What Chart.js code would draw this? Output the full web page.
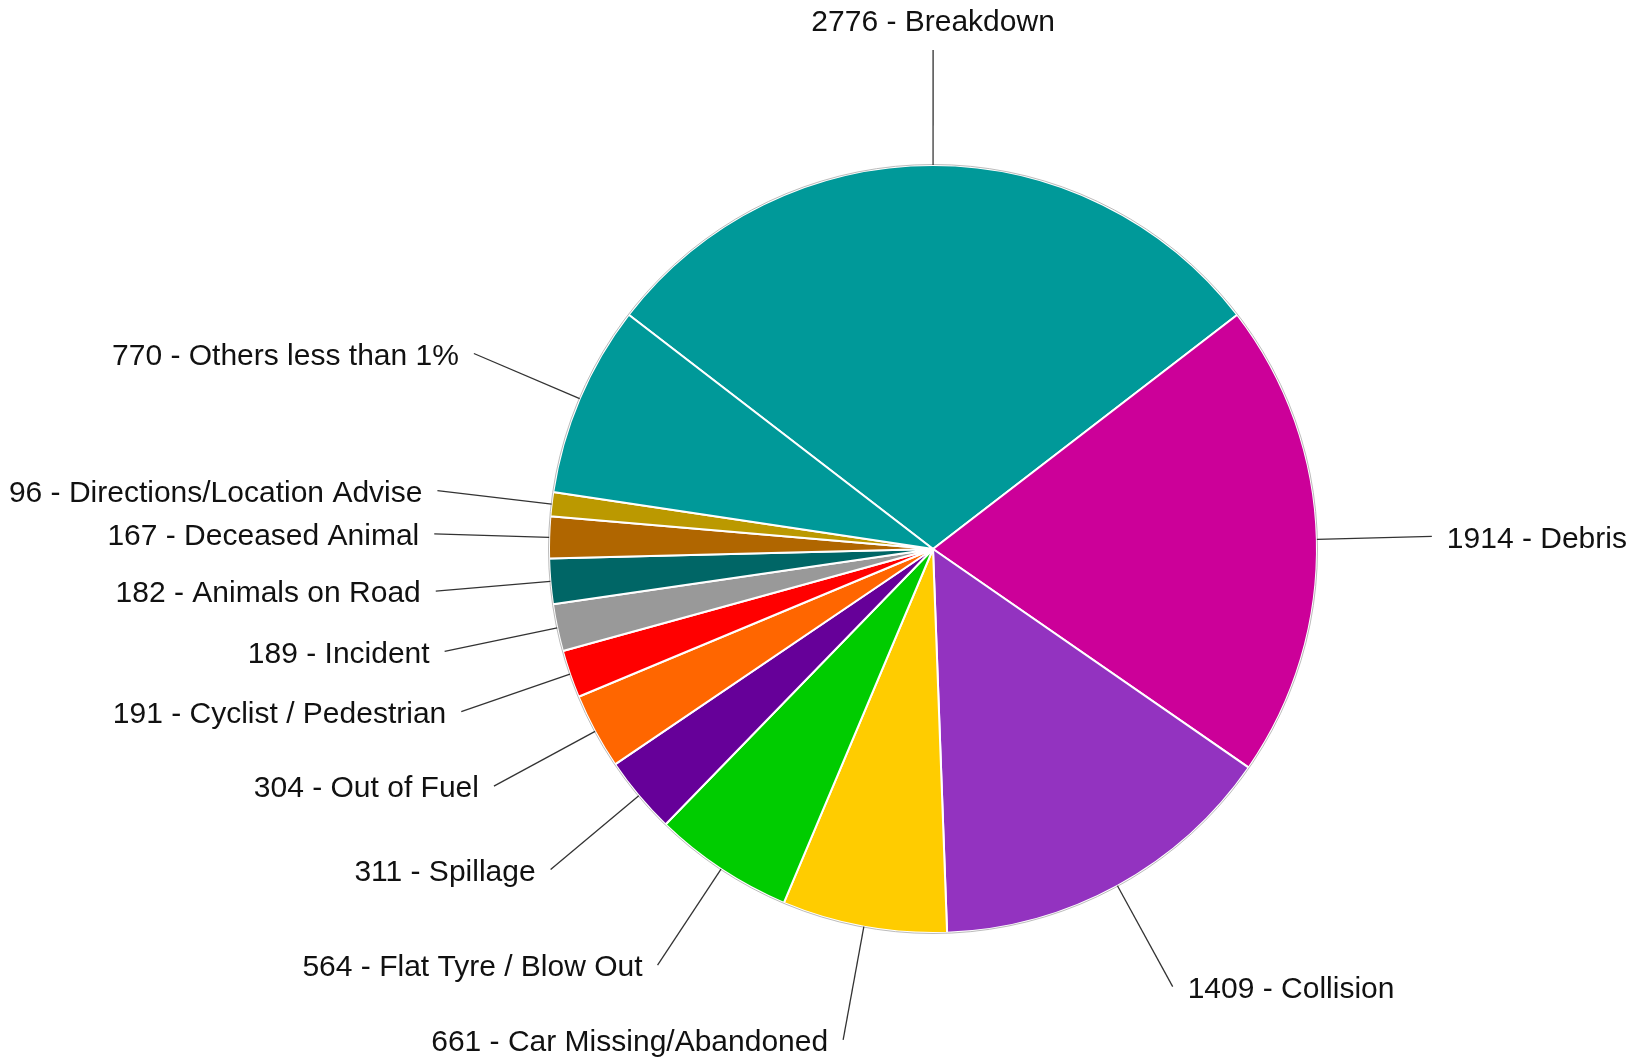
<!DOCTYPE html>
<html>
<head>
<meta charset="utf-8">
<script src="https://cdn.jsdelivr.net/npm/chart.js@4"></script>
<style>
  html,body{margin:0;padding:0;background:#fff;}
  #wrap{width:1630px;height:1057px;}
</style>
</head>
<body>
<div id="wrap"><canvas id="pieChart" width="1630" height="1057"></canvas></div>
<script>
// ===================== DADOS =====================
const categorias=['Breakdown','Debris','Collision','Car Missing/Abandoned','Flat Tyre / Blow Out','Spillage','Out of Fuel','Cyclist / Pedestrian','Incident','Animals on Road','Deceased Animal','Directions/Location Advise','Others less than 1%'];
const valores=[2776,1914,1409,661,564,311,304,191,189,182,167,96,770];
const cores=['#009999','#CC0099','#9333C0','#FFCC00','#00CC00','#660099','#FF6600','#FF0000','#999999','#006666','#B06600','#BB9900','#009999'];

// ===================== RÓTULOS COM LINHAS =====================
const leaderLabels={
  id:'leaderLabels',
  afterDatasetsDraw(chart){
    const ctx=chart.ctx;
    const meta=chart.getDatasetMeta(0);
    const LEN=115,GAP=15;
    ctx.save();
    // contorno cinza suave
    const a0=meta.data[0];
    ctx.beginPath();
    ctx.arc(a0.x,a0.y,a0.outerRadius+0.5,0,Math.PI*2);
    ctx.strokeStyle='rgba(170,170,170,0.8)';
    ctx.lineWidth=1;
    ctx.stroke();

    ctx.font='30px "Liberation Sans", Arial, sans-serif';
    ctx.fillStyle='#111';
    meta.data.forEach((arc,i)=>{
      const mid=(arc.startAngle+arc.endAngle)/2;
      const c=Math.cos(mid),s=Math.sin(mid);
      const r=arc.outerRadius;
      const x1=arc.x+c*r,y1=arc.y+s*r;
      const x2=arc.x+c*(r+LEN),y2=arc.y+s*(r+LEN);
      ctx.beginPath();
      ctx.moveTo(x1,y1);ctx.lineTo(x2,y2);
      ctx.strokeStyle='#333';ctx.lineWidth=1.3;ctx.stroke();
      const txt=valores[i]+' - '+categorias[i];
      if(s<-0.95){
        ctx.textAlign='center';ctx.textBaseline='bottom';
        ctx.fillText(txt,x2,y2-GAP+3);
      }else if(c>=0){
        ctx.textAlign='left';ctx.textBaseline='middle';
        ctx.fillText(txt,x2+GAP,y2+3);
      }else{
        ctx.textAlign='right';ctx.textBaseline='middle';
        ctx.fillText(txt,x2-GAP,y2+3);
      }
    });
    ctx.restore();
  }
};

new Chart(document.getElementById('pieChart').getContext('2d'),{type:'pie',
  data:{labels:categorias,datasets:[{data:valores,backgroundColor:cores,borderColor:'#ffffff',borderWidth:2}]},
  options:{responsive:false,devicePixelRatio:1,animation:false,rotation:-52.4,
    layout:{padding:{left:548,right:312,top:164,bottom:123}},
    plugins:{legend:{display:false},tooltip:{enabled:false}}},
  plugins:[leaderLabels]
});
</script>
</body>
</html>
